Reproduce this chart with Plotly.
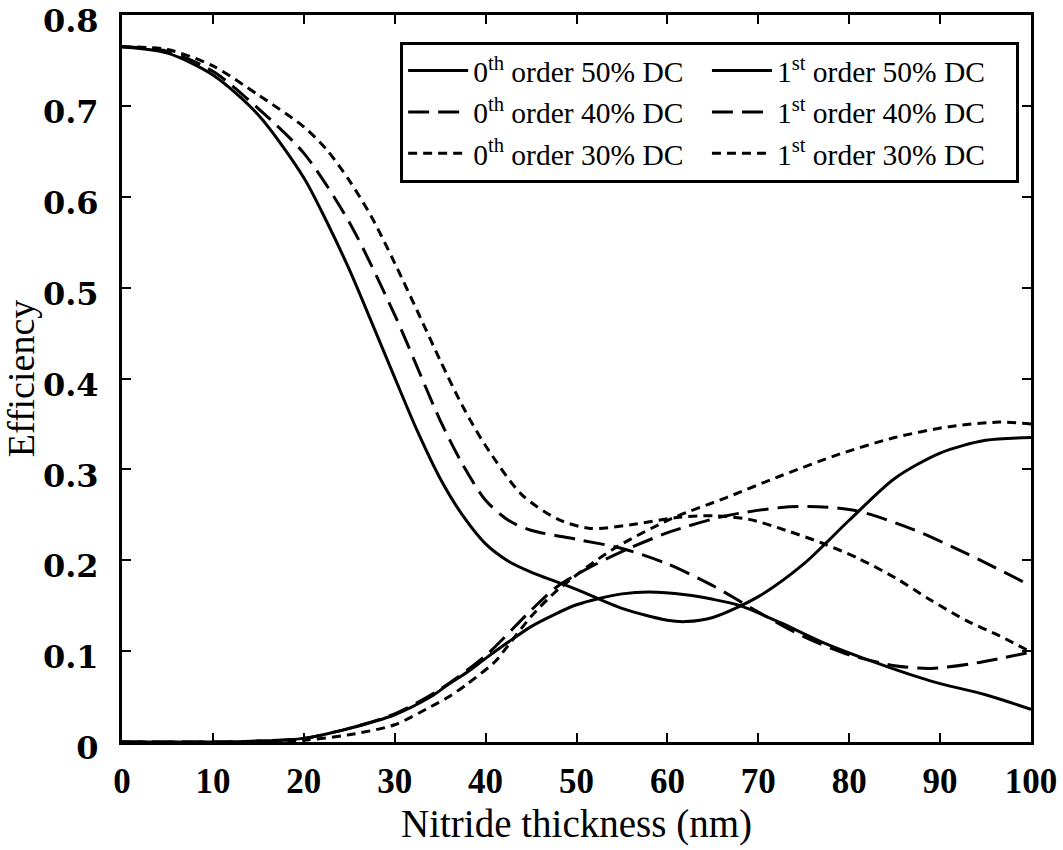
import plotly.graph_objects as go

# Diffraction efficiency versus nitride thickness for three duty cycles (DC)

# 0th order, 50% DC
x_0th_50 = [0, 5, 10, 15, 20, 22.5, 25, 27.5, 30, 32.5, 35, 37.5, 40, 42.5, 45, 50, 55, 60, 62, 65, 70, 75, 80, 85, 90, 95, 100]
y_0th_50 = [0.765, 0.758, 0.734, 0.690, 0.621, 0.573, 0.520, 0.461, 0.401, 0.342, 0.290, 0.249, 0.218, 0.199, 0.187, 0.168, 0.147, 0.134, 0.1325, 0.137, 0.160, 0.196, 0.244, 0.290, 0.318, 0.332, 0.335]

# 1st order, 50% DC
x_1st_50 = [0, 10, 15, 20, 25, 30, 34, 36, 38, 40, 42.5, 45, 47.5, 50, 52.5, 55, 58, 62, 65, 68, 72.5, 77, 83, 89, 95, 100]
y_1st_50 = [0, 0, 0.001, 0.004, 0.015, 0.030, 0.050, 0.064, 0.077, 0.092, 0.110, 0.127, 0.140, 0.151, 0.158, 0.163, 0.165, 0.162, 0.157, 0.150, 0.131, 0.110, 0.087, 0.067, 0.052, 0.036]

# 0th order, 40% DC
x_0th_40 = [0, 5, 10, 15, 20, 25, 30, 35, 37.5, 40, 42.5, 45, 50, 55, 60, 65, 70, 75, 80, 85, 89, 94, 100]
y_0th_40 = [0.765, 0.760, 0.738, 0.697, 0.648, 0.572, 0.470, 0.354, 0.305, 0.266, 0.244, 0.233, 0.223, 0.213, 0.196, 0.172, 0.143, 0.116, 0.096, 0.084, 0.081, 0.087, 0.099]

# 1st order, 40% DC
x_1st_40 = [0, 10, 15, 20, 25, 30, 35, 40, 45, 48, 52, 56, 60.5, 66.5, 72.5, 76.5, 81, 87, 93, 100]
y_1st_40 = [0, 0, 0.001, 0.004, 0.015, 0.031, 0.058, 0.095, 0.145, 0.172, 0.195, 0.214, 0.232, 0.249, 0.258, 0.259, 0.254, 0.234, 0.207, 0.172]

# 0th order, 30% DC
x_0th_30 = [0, 5, 10, 15, 20, 22.5, 25, 27.5, 30, 32.5, 35, 37.5, 40, 44, 48, 51.5, 56, 61, 65, 69, 73, 77, 81, 85, 89, 93, 96.5, 100]
y_0th_30 = [0.765, 0.762, 0.744, 0.712, 0.677, 0.652, 0.618, 0.577, 0.527, 0.474, 0.420, 0.369, 0.326, 0.272, 0.245, 0.235, 0.239, 0.247, 0.249, 0.245, 0.233, 0.219, 0.202, 0.181, 0.156, 0.133, 0.117, 0.099]

# 1st order, 30% DC
x_1st_30 = [0, 15, 20, 25, 30, 34, 36, 38, 41, 42, 45, 48, 54, 60.5, 66.5, 72.5, 79, 85, 91, 96.5, 100]
y_1st_30 = [0, 0, 0.002, 0.008, 0.019, 0.039, 0.050, 0.064, 0.088, 0.100, 0.138, 0.168, 0.212, 0.246, 0.269, 0.293, 0.317, 0.335, 0.347, 0.352, 0.350]

# Axis ticks
x_ticks = [0, 10, 20, 30, 40, 50, 60, 70, 80, 90, 100]
y_ticks = [0, 0.1, 0.2, 0.3, 0.4, 0.5, 0.6, 0.7, 0.8]
y_tick_text = ["0", "0.1", "0.2", "0.3", "0.4", "0.5", "0.6", "0.7", "0.8"]

series = [
    ("0<sup>th</sup> order 50% DC", x_0th_50, y_0th_50, "solid"),
    ("1<sup>st</sup> order 50% DC", x_1st_50, y_1st_50, "solid"),
    ("0<sup>th</sup> order 40% DC", x_0th_40, y_0th_40, "21px,9px"),
    ("1<sup>st</sup> order 40% DC", x_1st_40, y_1st_40, "21px,9px"),
    ("0<sup>th</sup> order 30% DC", x_0th_30, y_0th_30, "9px,6px"),
    ("1<sup>st</sup> order 30% DC", x_1st_30, y_1st_30, "9px,6px"),
]

SERIF = "Liberation Serif, Times New Roman, serif"
WIDE_SERIF = "DejaVu Serif, serif"

fig = go.Figure()
for name, xs, ys, dash in series:
    fig.add_trace(go.Scatter(
        x=xs, y=ys, name=name, mode="lines",
        line=dict(color="black", width=3, dash=dash, shape="spline", smoothing=0.8),
    ))

axis_common = dict(
    showline=True, linecolor="black", linewidth=3, mirror="ticks",
    ticks="inside", ticklen=9, tickwidth=2, tickcolor="black",
    showgrid=False, zeroline=False, automargin=False,
    ticklabeloverflow="allow",
)

fig.update_layout(
    width=1063, height=850,
    margin=dict(l=122, r=32, t=15, b=108),
    paper_bgcolor="white", plot_bgcolor="white",
    font=dict(family=SERIF, color="black"),
    showlegend=True,
    legend=dict(
        x=0.306, y=0.963, xanchor="left", yanchor="top",
        orientation="h", entrywidth=0.3342, entrywidthmode="fraction",
        traceorder="normal", itemwidth=60,
        bgcolor="white", bordercolor="black", borderwidth=3,
        font=dict(family=SERIF, size=29.5, color="black"),
    ),
    xaxis=dict(
        range=[0, 100], tickvals=x_ticks,
        tickfont=dict(family=SERIF, size=35, color="black", weight="bold"),
        ticklabelstandoff=6,
        title=dict(text="Nitride thickness (nm)", font=dict(family=SERIF, size=39, color="black"), standoff=10),
        **axis_common,
    ),
    yaxis=dict(
        range=[0, 0.8], tickvals=y_ticks, ticktext=y_tick_text,
        tickfont=dict(family=WIDE_SERIF, size=32, color="black", weight="bold"),
        ticklabelstandoff=14, ticklabelshift=6,
        title=dict(text="Efficiency", font=dict(family=SERIF, size=38, color="black"), standoff=8),
        **axis_common,
    ),
)

fig.write_html("out.html")
